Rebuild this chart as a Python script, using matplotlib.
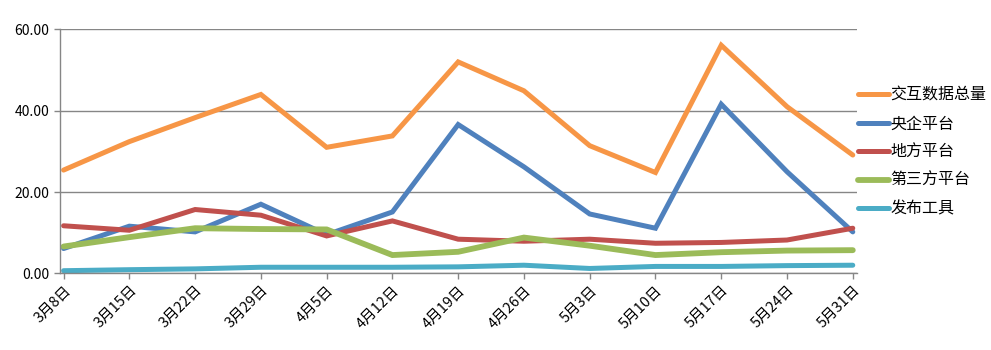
import matplotlib

matplotlib.use("Agg")
import matplotlib.pyplot as plt

plt.rcParams["font.family"] = ["Noto Sans CJK SC", "DejaVu Sans"]

weeks = ["3月8日", "3月15日", "3月22日", "3月29日", "4月5日", "4月12日", "4月19日",
         "4月26日", "5月3日", "5月10日", "5月17日", "5月24日", "5月31日"]

total = [25.4, 32.4, 38.3, 44.0, 31.0, 33.8, 52.0, 44.9, 31.4, 24.8, 56.1, 41.0, 29.1]
central = [6.1, 11.6, 10.2, 17.0, 9.5, 15.1, 36.6, 26.2, 14.6, 11.1, 41.6, 25.0, 10.2]
local = [11.7, 10.6, 15.7, 14.3, 9.2, 12.9, 8.4, 7.9, 8.4, 7.4, 7.6, 8.2, 11.1]
third_party = [6.6, 8.9, 11.1, 10.9, 10.8, 4.5, 5.3, 8.8, 6.8, 4.5, 5.2, 5.6, 5.7]
publish_tool = [0.65, 0.9, 1.1, 1.5, 1.5, 1.5, 1.6, 2.0, 1.2, 1.7, 1.7, 1.9, 2.0]

series = [
    ("交互数据总量", total, "#F79646", 3.6),
    ("央企平台", central, "#4F81BD", 3.6),
    ("地方平台", local, "#C0504D", 3.6),
    ("第三方平台", third_party, "#9BBB59", 4.2),
    ("发布工具", publish_tool, "#4BACC6", 3.6),
]

GRID = "#868686"

fig = plt.figure(figsize=(9.91, 3.5), dpi=100)
ax = fig.add_axes([0.0605, 0.219, 0.804, 0.697])

x = list(range(len(weeks)))
handles = []
for name, values, color, lw in series:
    (line,) = ax.plot(x, values, color=color, linewidth=lw, label=name,
                      solid_joinstyle="miter", solid_capstyle="round")
    handles.append(line)

ax.set_ylim(0, 60)
ax.set_yticks([0, 20, 40, 60])
ax.set_yticklabels([f"{v:.2f}" for v in [0, 20, 40, 60]], fontsize=10)
ax.set_xlim(-0.055, 12.06)
ax.set_xticks(x)
ax.set_xticklabels(weeks, rotation=45, ha="right", rotation_mode="anchor", fontsize=10.5)

ax.grid(axis="y", color=GRID, linewidth=1.0)
ax.set_axisbelow(True)
for side in ("top", "right"):
    ax.spines[side].set_visible(False)
for side in ("left", "bottom"):
    ax.spines[side].set_color(GRID)
    ax.spines[side].set_linewidth(1.0)
ax.tick_params(axis="both", colors=GRID, length=4, width=1.0, labelcolor="black")
ax.tick_params(axis="x", pad=3)

fig.legend(handles=handles, loc="upper left", bbox_to_anchor=(0.866, 0.752),
           frameon=False, fontsize=11.5, handlelength=1.9, handletextpad=0.1,
           labelspacing=0.72, borderaxespad=0, borderpad=0)

fig.savefig("out.png", dpi=100, facecolor="white")
